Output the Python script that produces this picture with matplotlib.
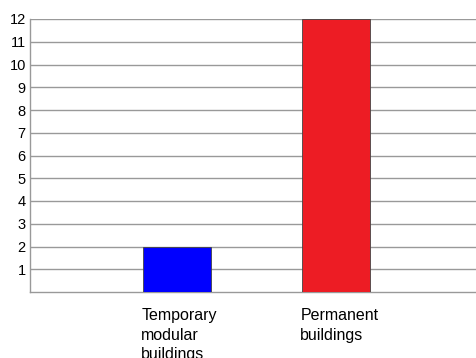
import matplotlib.pyplot as plt

categories = ['Temporary\nmodular\nbuildings', 'Permanent\nbuildings']
values = [2, 12]
colors = ['#0000FF', '#ED1C24']
yticks = list(range(1, 13))

plt.rcParams['font.family'] = ['Liberation Sans', 'DejaVu Sans']

fig = plt.figure(figsize=(4.76, 3.58), dpi=100)
ax = fig.add_axes([30 / 476, 66 / 358, 446 / 476, 273 / 358])

width = 0.43
pos = list(range(len(values)))
ax.bar(pos, values, width=width, color=colors, edgecolor='#444444', linewidth=0.6, zorder=3)

ax.set_xlim(-0.925, 1.88)
ax.set_ylim(0, 12)
ax.set_yticks(yticks)
ax.set_yticklabels([str(t) for t in yticks], fontsize=10.5)
ax.yaxis.grid(True, color='#999999', linewidth=1.0, zorder=0)
ax.tick_params(axis='y', length=0, pad=3)
ax.set_xticks([])

for s in ['top', 'right']:
    ax.spines[s].set_visible(False)
for s in ['left', 'bottom']:
    ax.spines[s].set_color('#999999')
    ax.spines[s].set_linewidth(1.0)

for p, lab in zip(pos, categories):
    ax.text(p - width / 2 - 0.01, -0.058, lab, transform=ax.get_xaxis_transform(),
            ha='left', va='top', fontsize=11.5, linespacing=1.4)

fig.savefig('out.png', dpi=100)
